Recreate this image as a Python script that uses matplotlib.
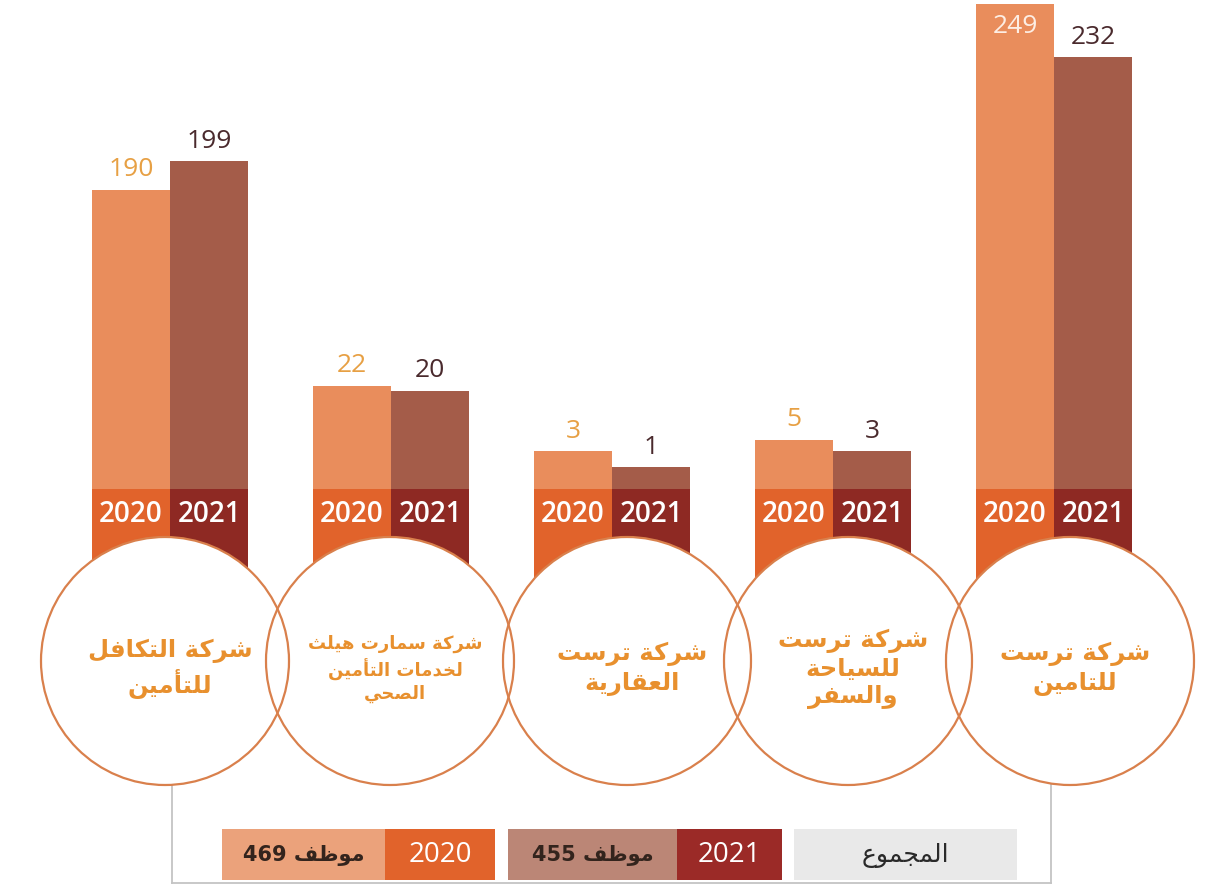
import numpy as np
import matplotlib
matplotlib.use("Agg")
import matplotlib.pyplot as plt
from matplotlib.patches import Rectangle, Circle
from matplotlib.transforms import blended_transform_factory

# ---------------- data ----------------
companies = [
    "شركة التكافل\nللتأمين",
    "شركة سمارت هيلث\nلخدمات التأمين\nالصحي",
    "شركة ترست\nالعقارية",
    "شركة ترست\nللسياحة\nوالسفر",
    "شركة ترست\nللتامين",
]
years = ["2020", "2021"]
values_2020 = [190, 22, 3, 5, 249]
values_2021 = [199, 20, 1, 3, 232]
total_word = "موظف"
total_title = "المجموع"

# ---------------- Arabic shaping (presentation forms, visual order) ----------------
_F = {  # isolated, final, initial, medial
    'ا': (0xFE8D, 0xFE8E, None, None), 'أ': (0xFE83, 0xFE84, None, None),
    'إ': (0xFE87, 0xFE88, None, None), 'آ': (0xFE81, 0xFE82, None, None),
    'ب': (0xFE8F, 0xFE90, 0xFE91, 0xFE92), 'ة': (0xFE93, 0xFE94, None, None),
    'ت': (0xFE95, 0xFE96, 0xFE97, 0xFE98), 'ث': (0xFE99, 0xFE9A, 0xFE9B, 0xFE9C),
    'ج': (0xFE9D, 0xFE9E, 0xFE9F, 0xFEA0), 'ح': (0xFEA1, 0xFEA2, 0xFEA3, 0xFEA4),
    'خ': (0xFEA5, 0xFEA6, 0xFEA7, 0xFEA8), 'د': (0xFEA9, 0xFEAA, None, None),
    'ذ': (0xFEAB, 0xFEAC, None, None), 'ر': (0xFEAD, 0xFEAE, None, None),
    'ز': (0xFEAF, 0xFEB0, None, None), 'س': (0xFEB1, 0xFEB2, 0xFEB3, 0xFEB4),
    'ش': (0xFEB5, 0xFEB6, 0xFEB7, 0xFEB8), 'ص': (0xFEB9, 0xFEBA, 0xFEBB, 0xFEBC),
    'ض': (0xFEBD, 0xFEBE, 0xFEBF, 0xFEC0), 'ط': (0xFEC1, 0xFEC2, 0xFEC3, 0xFEC4),
    'ظ': (0xFEC5, 0xFEC6, 0xFEC7, 0xFEC8), 'ع': (0xFEC9, 0xFECA, 0xFECB, 0xFECC),
    'غ': (0xFECD, 0xFECE, 0xFECF, 0xFED0), 'ف': (0xFED1, 0xFED2, 0xFED3, 0xFED4),
    'ق': (0xFED5, 0xFED6, 0xFED7, 0xFED8), 'ك': (0xFED9, 0xFEDA, 0xFEDB, 0xFEDC),
    'ل': (0xFEDD, 0xFEDE, 0xFEDF, 0xFEE0), 'م': (0xFEE1, 0xFEE2, 0xFEE3, 0xFEE4),
    'ن': (0xFEE5, 0xFEE6, 0xFEE7, 0xFEE8), 'ه': (0xFEE9, 0xFEEA, 0xFEEB, 0xFEEC),
    'و': (0xFEED, 0xFEEE, None, None), 'ى': (0xFEEF, 0xFEF0, None, None),
    'ي': (0xFEF1, 0xFEF2, 0xFEF3, 0xFEF4),
}
_LAMALEF = {'ا': (0xFEFB, 0xFEFC), 'أ': (0xFEF7, 0xFEF8),
            'إ': (0xFEF9, 0xFEFA), 'آ': (0xFEF5, 0xFEF6)}


def _dual(c):
    return c in _F and _F[c][2] is not None


def shape_line(line):
    out = []
    i = 0
    n = len(line)
    while i < n:
        c = line[i]
        prev = line[i - 1] if i > 0 else ''
        if c not in _F:
            out.append(c)
            i += 1
            continue
        jp = _dual(prev)
        if c == 'ل' and i + 1 < n and line[i + 1] in _LAMALEF:
            iso, fin = _LAMALEF[line[i + 1]]
            out.append(chr(fin if jp else iso))
            i += 2
            continue
        nxt = line[i + 1] if i + 1 < n else ''
        jn = _dual(c) and nxt in _F
        iso, fin, ini, med = _F[c]
        if jp and jn:
            code = med
        elif jn:
            code = ini
        elif jp:
            code = fin
        else:
            code = iso
        out.append(chr(code))
        i += 1
    return ''.join(reversed(out))


def ar(text):
    return '\n'.join(shape_line(l) for l in text.split('\n'))


# ---------------- compressed value scale ----------------
LOW_V, MID_V = 25.0, 180.0
LOW_K = 22.0
LOW_H = LOW_K * np.sqrt(LOW_V)
MID_H = 268.0
MID_SLOPE = (MID_H - LOW_H) / (MID_V - LOW_V)
HIGH_SLOPE = 3.15


def fwd(v):
    v = np.clip(np.asarray(v, float), 0, None)
    low = LOW_K * np.sqrt(np.minimum(v, LOW_V))
    mid = np.clip(v - LOW_V, 0, MID_V - LOW_V) * MID_SLOPE
    high = np.clip(v - MID_V, 0, None) * HIGH_SLOPE
    return low + mid + high


def inv(h):
    h = np.clip(np.asarray(h, float), 0, None)
    vl = (np.minimum(h, LOW_H) / LOW_K) ** 2
    vm = np.clip(h - LOW_H, 0, MID_H - LOW_H) / MID_SLOPE
    vh = np.clip(h - MID_H, 0, None) / HIGH_SLOPE
    return vl + vm + vh


# ---------------- layout / style ----------------
W, H = 1205, 887
BASE_PX = 490          # pixel row of bar baseline
GROUP_PX0, GROUP_STEP = 170.0, 221.0
BAR_W = 0.353
C_BAR = ["#e98d5c", "#a45c49"]
C_BOX = ["#e1632b", "#8e2923"]
C_LBL = ["#e7a044", "#4a2a2d"]
C_TXT = "#e8902e"
C_RING = "#d9804c"
NUM_FONT = ["Open Sans", "DejaVu Sans"]
AR_FONT = ["DejaVu Sans"]

fig = plt.figure(figsize=(W / 100, H / 100), dpi=100)
fig.patch.set_facecolor("white")

deco = fig.add_axes([0, 0, 1, 1], zorder=1)
deco.set_xlim(0, W)
deco.set_ylim(H, 0)
deco.axis("off")

ax = fig.add_axes([0, (H - BASE_PX) / H, 1, BASE_PX / H], zorder=2)
ax.patch.set_alpha(0)
ax.set_yscale("function", functions=(fwd, inv))
ax.set_ylim(0, float(inv(BASE_PX)))
ax.set_xlim(-GROUP_PX0 / GROUP_STEP, (W - GROUP_PX0) / GROUP_STEP)
ax.axis("off")

x = np.arange(len(companies))
series = [values_2020, values_2021]
offsets = [-BAR_W / 2, BAR_W / 2]
for s, vals in enumerate(series):
    xs = x + offsets[s]
    ax.bar(xs, vals, width=BAR_W, color=C_BAR[s], linewidth=0)
    for xi, v in zip(xs, vals):
        inside = fwd(v) + 30 > BASE_PX
        ax.annotate(str(v), (xi, v), xytext=(0, -7 if inside else 6),
                    textcoords="offset points", ha="center",
                    va="top" if inside else "bottom", fontsize=19,
                    color="#fdeee4" if inside else C_LBL[s], family=NUM_FONT)

# year boxes under the bars (x from bar axis, y in pixels)
tr = blended_transform_factory(ax.transData, deco.transData)
for s in range(2):
    for xi in x + offsets[s]:
        deco.add_patch(Rectangle((xi - BAR_W / 2, BASE_PX), BAR_W, 95,
                                 transform=tr, color=C_BOX[s], lw=0, zorder=2))
        deco.text(xi, BASE_PX + 25, years[s], transform=tr, ha="center",
                  va="center", color="white", fontsize=20, fontweight="semibold",
                  family=NUM_FONT, zorder=3)

# circles
CIRCLE_CX = [165, 390, 627, 848, 1070]
CY, R = 662, 124
for cx in CIRCLE_CX:
    deco.add_patch(Circle((cx, CY), R, facecolor="white", edgecolor="none",
                          zorder=5))
for cx in CIRCLE_CX:
    deco.add_patch(Circle((cx, CY), R, facecolor="none", edgecolor=C_RING,
                          lw=1.6, zorder=6))
txt_sizes = [17.5, 13, 17.5, 17.5, 17.5]
line_sp = [1.25, 1.3, 1.25, 1.2, 1.25]
for cx, name, fs, ls in zip(CIRCLE_CX, companies, txt_sizes, line_sp):
    deco.text(cx + 5, CY + 7, ar(name), ha="center", va="center",
              multialignment="center", fontsize=fs, fontweight="bold",
              color=C_TXT, family=AR_FONT, linespacing=ls, zorder=7)

# legend frame
frame_c = "#c4c4c4"
deco.plot([172, 172], [780, 884], color=frame_c, lw=1.3, zorder=1)
deco.plot([172, 1051], [884, 884], color=frame_c, lw=1.3, zorder=1)
deco.plot([1051, 1051], [780, 884], color=frame_c, lw=1.3, zorder=1)

tot20, tot21 = sum(values_2020), sum(values_2021)
LY0, LY1 = 830, 881
cells = [
    (222, 385, "#eba27b", f"{tot20} {ar(total_word)}", "#33241d", 15, AR_FONT, "bold"),
    (385, 495, C_BOX[0], years[0], "white", 20, NUM_FONT, "normal"),
    (508, 677, "#bb8676", f"{tot21} {ar(total_word)}", "#33241d", 15, AR_FONT, "bold"),
    (677, 782, "#9b2a27", years[1], "white", 20, NUM_FONT, "normal"),
    (794, 1017, "#e9e9e9", ar(total_title), "#2a2a2a", 18, AR_FONT, "normal"),
]
for x0, x1, fc, t, tc, fs, fam, fw in cells:
    deco.add_patch(Rectangle((x0, LY0), x1 - x0, LY1 - LY0, color=fc, lw=0,
                             zorder=3))
    deco.text((x0 + x1) / 2, (LY0 + LY1) / 2, t, ha="center", va="center",
              color=tc, fontsize=fs, family=fam, fontweight=fw, zorder=4)

fig.savefig("out.png", dpi=100, facecolor="white")
